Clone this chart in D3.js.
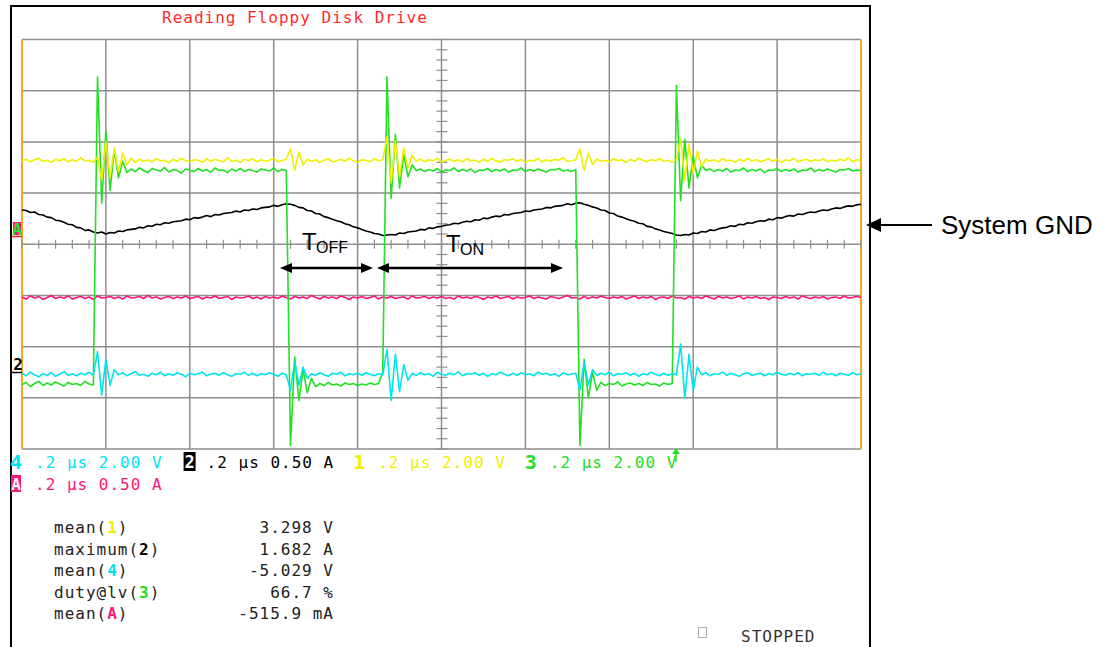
<!DOCTYPE html>
<html><head><meta charset="utf-8">
<script src="https://cdn.jsdelivr.net/npm/d3@7"></script>
<style>
body{margin:0;background:#fff;}
svg{display:block;}
.mono{font-family:"DejaVu Sans Mono",monospace;font-size:16px;letter-spacing:1px;}
.sans{font-family:"Liberation Sans",Arial,sans-serif;}
</style></head><body>
<svg id="c" width="1107" height="647"></svg>
<script>
// ---- data (vertical in divisions, samples evenly spaced across 10 divisions) ----
const ch1 = [ // yellow
1.63,1.66,1.61,1.65,1.68,1.62,1.64,1.60,1.66,1.63,1.67,1.61,1.65,1.62,1.69,1.63,1.64,1.60,
1.70,1.25,2.00,1.30,1.88,1.42,1.78,1.55,
1.68,1.60,1.66,1.62,1.65,1.61,1.67,1.63,1.64,1.59,1.66,1.62,1.68,1.63,1.61,1.65,1.64,1.60,1.67,1.62,1.66,1.63,1.61,1.69,1.62,1.64,1.60,1.66,1.63,1.67,1.61,1.65,1.62,1.64,1.68,1.61,1.63,1.66,
1.86,1.45,1.80,1.55,
1.66,1.62,1.65,1.60,1.64,1.67,1.61,1.63,1.66,1.62,1.68,1.63,1.60,1.65,1.64,1.61,1.67,1.63,1.65,
2.10,1.20,2.02,1.32,1.88,1.48,1.74,
1.62,1.66,1.61,1.65,1.63,1.68,1.60,1.64,1.66,1.62,1.65,1.61,1.67,1.63,1.64,1.60,1.66,1.62,1.68,1.63,1.61,1.65,1.64,1.67,1.62,1.66,1.60,1.64,1.63,1.67,1.61,1.65,1.62,1.66,1.64,1.69,1.62,1.63,1.65,
1.86,1.44,1.78,1.56,
1.66,1.62,1.64,1.61,1.67,1.63,1.65,1.60,1.66,1.62,1.68,1.64,1.61,1.65,1.63,1.67,1.62,1.64,1.60,1.66,
2.06,1.24,1.96,1.38,1.82,1.52,
1.66,1.62,1.65,1.61,1.67,1.63,1.64,1.60,1.66,1.62,1.68,1.63,1.65,1.61,1.64,1.67,1.62,1.66,1.60,1.65,1.63,1.68,1.61,1.64,1.66,1.62,1.65,1.63,1.67,1.61,1.64,1.62,1.66,1.63,1.69,1.61,1.65,1.64];

const ch2 = [ // black (current)
0.67,0.66,0.62,0.63,0.58,0.57,0.53,0.52,0.47,0.46,0.43,0.39,0.38,0.33,0.32,0.27,0.28,0.24,0.22,0.24,0.20,
0.23,0.22,0.26,0.25,0.28,0.29,0.30,0.33,0.32,0.36,0.35,0.39,0.38,0.42,0.41,0.44,0.45,0.46,0.49,0.48,0.52,0.51,0.53,0.56,0.54,0.58,0.57,0.60,0.61,0.62,0.65,0.63,0.67,0.66,0.69,0.68,0.71,0.72,0.73,0.76,0.74,0.77,0.79,0.78,
0.76,0.72,0.71,0.66,0.65,0.60,0.59,0.54,0.52,0.49,0.46,0.44,0.40,0.38,0.34,0.32,0.29,0.26,0.24,0.21,0.20,0.17,0.18,
0.19,0.18,0.22,0.21,0.24,0.25,0.26,0.29,0.28,0.32,0.31,0.34,0.35,0.37,0.38,0.41,0.40,0.43,0.45,0.44,0.48,0.47,0.51,0.50,0.53,0.55,0.54,0.58,0.57,0.60,0.61,0.62,0.65,0.64,0.67,0.68,0.69,0.72,0.71,0.74,0.75,0.76,0.79,0.77,0.80,0.81,
0.78,0.76,0.73,0.71,0.67,0.66,0.61,0.60,0.55,0.53,0.50,0.47,0.45,0.41,0.40,0.35,0.34,0.30,0.28,0.25,0.23,0.21,0.18,0.17,
0.19,0.18,0.22,0.21,0.25,0.24,0.28,0.27,0.30,0.32,0.33,0.36,0.35,0.39,0.38,0.42,0.41,0.44,0.46,0.45,0.49,0.48,0.52,0.51,0.54,0.56,0.55,0.59,0.58,0.61,0.63,0.62,0.65,0.67,0.66,0.69,0.71,0.70,0.73,0.75,0.74,0.77,0.78];

const ch3 = [ // green
-2.74,-2.70,-2.78,-2.72,-2.68,-2.76,-2.71,-2.75,-2.69,-2.73,-2.77,-2.70,-2.74,-2.72,-2.76,-2.68,-2.73,-2.75,
3.27,0.80,2.20,1.05,1.85,1.30,1.62,1.40,
1.47,1.42,1.49,1.44,1.40,1.48,1.45,1.43,1.50,1.41,1.46,1.44,1.39,1.47,1.45,1.42,1.48,1.43,1.46,1.41,1.49,1.44,1.45,1.40,1.47,1.43,1.48,1.42,1.46,1.44,1.41,1.47,1.45,1.43,1.49,1.42,1.46,1.44,
-3.93,-2.20,-3.05,-2.45,-2.90,-2.62,
-2.78,-2.72,-2.76,-2.70,-2.75,-2.73,-2.77,-2.71,-2.74,-2.72,-2.76,-2.73,-2.75,-2.71,-2.74,-2.72,
-2.50,
3.27,0.90,2.15,1.10,1.75,1.32,1.55,
1.44,1.47,1.42,1.46,1.43,1.48,1.41,1.45,1.44,1.49,1.42,1.46,1.43,1.47,1.40,1.45,1.44,1.48,1.42,1.46,1.43,1.47,1.41,1.45,1.44,1.49,1.42,1.46,1.43,1.47,1.44,1.41,1.46,1.45,1.48,1.43,1.45,1.42,1.46,
-3.93,-2.25,-3.00,-2.50,-2.85,
-2.70,-2.76,-2.72,-2.74,-2.69,-2.77,-2.73,-2.71,-2.75,-2.72,-2.76,-2.70,-2.74,-2.73,-2.77,-2.71,-2.74,-2.72,
3.10,0.85,2.05,1.10,1.72,1.30,1.55,
1.44,1.47,1.42,1.46,1.43,1.48,1.41,1.45,1.44,1.49,1.42,1.46,1.43,1.47,1.40,1.45,1.44,1.48,1.42,1.46,1.43,1.47,1.41,1.45,1.44,1.49,1.42,1.46,1.43,1.47,1.44,1.41,1.46,1.45,1.48,1.43,1.45,1.44];

const ch4 = [ // cyan
-2.52,-2.57,-2.50,-2.55,-2.59,-2.53,-2.56,-2.51,-2.58,-2.54,-2.49,-2.56,-2.53,-2.57,-2.52,-2.55,-2.50,-2.56,
-2.10,-2.95,-2.25,-2.75,-2.45,
-2.55,-2.51,-2.57,-2.53,-2.49,-2.56,-2.54,-2.58,-2.52,-2.55,-2.50,-2.57,-2.53,-2.56,-2.51,-2.54,-2.59,-2.52,-2.55,-2.53,-2.50,-2.57,-2.54,-2.52,-2.56,-2.51,-2.55,-2.58,-2.53,-2.54,-2.50,-2.56,-2.52,-2.57,-2.53,-2.55,-2.51,-2.54,-2.58,-2.52,-2.55,
-2.85,-2.30,-2.75,-2.40,-2.62,
-2.53,-2.56,-2.51,-2.55,-2.58,-2.52,-2.54,-2.50,-2.57,-2.53,-2.55,-2.52,-2.56,-2.51,-2.54,-2.57,-2.53,-2.55,
-2.05,-3.05,-2.15,-2.88,-2.35,-2.66,
-2.52,-2.56,-2.51,-2.55,-2.53,-2.58,-2.50,-2.54,-2.56,-2.52,-2.55,-2.49,-2.57,-2.53,-2.54,-2.51,-2.56,-2.52,-2.58,-2.53,-2.55,-2.50,-2.54,-2.57,-2.52,-2.56,-2.51,-2.55,-2.53,-2.57,-2.50,-2.54,-2.52,-2.56,-2.53,-2.58,-2.51,-2.55,-2.54,-2.52,
-2.85,-2.30,-2.75,-2.45,
-2.56,-2.52,-2.55,-2.50,-2.57,-2.53,-2.54,-2.51,-2.56,-2.52,-2.58,-2.53,-2.55,-2.50,-2.54,-2.57,-2.52,-2.56,-2.53,-2.55,
-1.95,-3.00,-2.15,-2.85,-2.40,
-2.55,-2.51,-2.57,-2.53,-2.54,-2.50,-2.56,-2.52,-2.55,-2.58,-2.53,-2.51,-2.56,-2.54,-2.52,-2.57,-2.53,-2.55,-2.50,-2.54,-2.56,-2.52,-2.55,-2.51,-2.57,-2.53,-2.54,-2.52,-2.56,-2.50,-2.55,-2.53,-2.57,-2.52,-2.54,-2.56,-2.51,-2.55,-2.53];

const chA = [ // pink (math A)
-1.03,-1.07,-1.01,-1.05,-1.02,-1.08,-1.04,-1.00,-1.06,-1.03,-1.05,-1.01,-1.07,-1.04,-1.02,-1.06,-1.03,-1.08,-1.01,-1.05,
-1.04,-1.02,-1.06,-1.03,-1.07,-1.01,-1.05,-1.04,-1.02,-1.06,-1.00,-1.05,-1.03,-1.07,-1.04,-1.02,-1.06,-1.03,-1.05,-1.01,
-1.06,-1.04,-1.02,-1.07,-1.03,-1.05,-1.01,-1.06,-1.04,-1.02,-1.08,-1.03,-1.05,-1.04,-1.01,-1.06,-1.03,-1.07,-1.02,-1.05,
-1.03,-1.06,-1.01,-1.04,-1.07,-1.02,-1.05,-1.03,-1.06,-1.00,-1.04,-1.07,-1.02,-1.05,-1.03,-1.06,-1.01,-1.04,-1.08,-1.03,
-1.05,-1.02,-1.06,-1.04,-1.01,-1.07,-1.03,-1.05,-1.02,-1.06,-1.04,-1.03,-1.07,-1.01,-1.05,-1.04,-1.02,-1.06,-1.03,-1.05,
-1.02,-1.06,-1.04,-1.07,-1.01,-1.05,-1.03,-1.06,-1.02,-1.04,-1.08,-1.03,-1.05,-1.01,-1.06,-1.04,-1.02,-1.07,-1.03,-1.05,
-1.04,-1.01,-1.06,-1.03,-1.05,-1.07,-1.02,-1.04,-1.06,-1.03,-1.00,-1.05,-1.04,-1.07,-1.02,-1.06,-1.03,-1.05,-1.01,-1.04,
-1.06,-1.03,-1.05,-1.02,-1.07,-1.04,-1.01,-1.06,-1.03,-1.05,-1.02,-1.08,-1.04,-1.03,-1.06,-1.01,-1.05,-1.04,-1.07,-1.02,
-1.05,-1.03,-1.06,-1.01,-1.04,-1.07,-1.02,-1.05,-1.03,-1.06,-1.04,-1.01,-1.07,-1.03,-1.05,-1.02,-1.06,-1.04,-1.08,-1.03,
-1.04,-1.06,-1.02,-1.05,-1.03,-1.07,-1.01,-1.04,-1.06,-1.03,-1.05,-1.02,-1.07,-1.04,-1.03,-1.06,-1.01,-1.05,-1.04,-1.02,
-1.04];

const xDivs = 10, yDivs = 8, minorPerDiv = 5;
const title = "Reading Floppy Disk Drive";
const legendChannels = ["4","2","1","3"];
const legendTexts = [".2 µs 2.00 V",".2 µs 0.50 A",".2 µs 2.00 V",".2 µs 2.00 V"];
const legendRow2 = {ch:"A", text:".2 µs 0.50 A"};
const measLabels = ["mean(","maximum(","mean(","duty@lv(","mean("];
const measChannels = ["1","2","4","3","A"];
const measValues = ["3.298 V","1.682 A","-5.029 V","66.7 %","-515.9 mA"];

const COL = {"1":"#efef00","2":"#000000","3":"#22e022","4":"#00e4ee","A":"#ff1478"};
const GRID = "#8e8e8e", EDGE = "#f5a623";

const svg = d3.select("#c");
const x = d3.scaleLinear().domain([0, xDivs]).range([22, 861]);
const y = d3.scaleLinear().domain([-yDivs/2, yDivs/2]).range([449, 39.5]);

// outer frame
svg.append("path").attr("d","M11,660 V6 H870 V660").attr("fill","none").attr("stroke","#000").attr("stroke-width",2);

// title
svg.append("text").attr("class","mono").attr("x",162).attr("y",23).attr("fill","#ff2a2a").text(title);

// grid
const grid = svg.append("g");
grid.selectAll("line.h").data(d3.range(-yDivs/2, yDivs/2+1)).enter().append("line")
  .attr("x1",x(0)).attr("x2",x(xDivs)).attr("y1",d=>y(d)).attr("y2",d=>y(d))
  .attr("stroke",GRID).attr("stroke-width",1.5);
grid.selectAll("line.v").data(d3.range(0, xDivs+1)).enter().append("line")
  .attr("y1",y(-yDivs/2)).attr("y2",y(yDivs/2)).attr("x1",d=>x(d)).attr("x2",d=>x(d))
  .attr("stroke",d=> (d===0||d===xDivs)?EDGE:GRID).attr("stroke-width",d=> (d===0||d===xDivs)?2:1.5);
// minor ticks on center axes
grid.selectAll("line.tx").data(d3.range(0, xDivs*minorPerDiv+1).map(k=>k/minorPerDiv)).enter().append("line")
  .attr("x1",d=>x(d)).attr("x2",d=>x(d)).attr("y1",y(0)-4.5).attr("y2",y(0)+4.5)
  .attr("stroke",GRID).attr("stroke-width",1.2);
grid.selectAll("line.ty").data(d3.range(0, yDivs*minorPerDiv+1).map(k=>k/minorPerDiv - yDivs/2)).enter().append("line")
  .attr("y1",d=>y(d)).attr("y2",d=>y(d)).attr("x1",x(xDivs/2)-5).attr("x2",x(xDivs/2)+6)
  .attr("stroke",GRID).attr("stroke-width",1.2);

// traces
const tr = svg.append("g");
function trace(data, color){
  const n = data.length;
  const line = d3.line().x((d,i)=>x(i*xDivs/(n-1))).y(d=>y(d));
  tr.append("path").attr("d",line(data)).attr("fill","none").attr("stroke",color)
    .attr("stroke-width",1.6).attr("stroke-linejoin","round");
}
trace(chA, COL["A"]);
trace(ch2, COL["2"]);
trace(ch3, COL["3"]);
trace(ch4, COL["4"]);
trace(ch1, COL["1"]);

// left channel markers
svg.append("rect").attr("x",13).attr("y",222).attr("width",8).attr("height",13).attr("fill",COL["A"]);
svg.append("text").attr("class","mono").attr("x",17).attr("y",235).attr("text-anchor","middle")
  .attr("font-weight","bold").attr("fill",COL["3"]).style("letter-spacing","0").text("A");
svg.append("line").attr("x1",12).attr("x2",22).attr("y1",236.5).attr("y2",236.5).attr("stroke","#ff2020").attr("stroke-width",1.5);
svg.append("text").attr("class","mono").attr("x",18).attr("y",370).attr("text-anchor","middle")
  .attr("font-weight","bold").attr("font-size",19).style("letter-spacing","0").attr("fill","#000").text("2");
svg.append("line").attr("x1",12).attr("x2",22).attr("y1",372.5).attr("y2",372.5).attr("stroke","#000").attr("stroke-width",1.5);

// annotations
const ann = svg.append("g").attr("class","sans");
ann.append("text").attr("x",302).attr("y",250).attr("font-size",24).text("T");
ann.append("text").attr("x",316).attr("y",253).attr("font-size",16).text("OFF");
ann.append("text").attr("x",446).attr("y",252).attr("font-size",24).text("T");
ann.append("text").attr("x",460).attr("y",255).attr("font-size",16).text("ON");
function dblArrow(x1,x2,yy){
  ann.append("line").attr("x1",x1+8).attr("x2",x2-8).attr("y1",yy).attr("y2",yy).attr("stroke","#000").attr("stroke-width",2.5);
  ann.append("path").attr("d",`M${x1},${yy} L${x1+12},${yy-5} L${x1+12},${yy+5} Z`).attr("fill","#000");
  ann.append("path").attr("d",`M${x2},${yy} L${x2-12},${yy-5} L${x2-12},${yy+5} Z`).attr("fill","#000");
}
dblArrow(280,373,268);
dblArrow(377,563,268);

// System GND
svg.append("line").attr("x1",876).attr("x2",932).attr("y1",225).attr("y2",225).attr("stroke","#000").attr("stroke-width",2);
svg.append("path").attr("d","M866,225 L881,218 L881,232 Z").attr("fill","#000");
svg.append("text").attr("class","sans").attr("x",941).attr("y",234).attr("font-size",26).text("System GND");

// legend
const lg = svg.append("g").attr("class","mono");
legendChannels.forEach((ch,k)=>{
  const gx = 12 + k*171.6;
  if(ch==="2"){
    lg.append("rect").attr("x",gx).attr("y",452).attr("width",12).attr("height",19).attr("fill","#000");
    lg.append("text").attr("x",gx+6).attr("y",468).attr("text-anchor","middle").attr("font-weight","bold")
      .attr("font-size",17).style("letter-spacing","0").attr("fill","#fff").text(ch);
  } else {
    lg.append("text").attr("x",gx+4).attr("y",469).attr("text-anchor","middle").attr("font-weight","bold")
      .attr("font-size",20).style("letter-spacing","0").attr("fill",COL[ch]).text(ch);
  }
  lg.append("text").attr("x",gx+23).attr("y",468).attr("fill",COL[ch]).text(legendTexts[k]);
});
// trigger marker
svg.append("line").attr("x1",676).attr("x2",676).attr("y1",451).attr("y2",462).attr("stroke",COL["3"]).attr("stroke-width",1.5);
svg.append("path").attr("d","M676,448 L672,454 L680,454 Z").attr("fill",COL["3"]);
// row 2
lg.append("rect").attr("x",11).attr("y",475).attr("width",10).attr("height",17).attr("fill",COL["A"]);
lg.append("text").attr("x",16).attr("y",490).attr("text-anchor","middle").attr("font-weight","bold")
  .attr("font-size",16).style("letter-spacing","0").attr("fill","#fff").text(legendRow2.ch);
lg.append("text").attr("x",35).attr("y",490).attr("fill",COL["A"]).text(legendRow2.text);

// measurements
const ms = svg.append("g").attr("class","mono");
measLabels.forEach((lab,k)=>{
  const yy = 533 + k*21.6;
  const t = ms.append("text").attr("x",54).attr("y",yy).attr("fill","#222");
  t.append("tspan").text(lab);
  t.append("tspan").attr("fill",COL[measChannels[k]]).attr("font-weight","bold").text(measChannels[k]);
  t.append("tspan").text(")");
  ms.append("text").attr("x",334).attr("y",yy).attr("text-anchor","end").attr("fill","#222").text(measValues[k]);
});

// status
svg.append("rect").attr("x",698.5).attr("y",627.5).attr("width",8).attr("height",10).attr("fill","none").attr("stroke","#aaa");
svg.append("text").attr("class","mono").attr("x",741).attr("y",642).attr("fill","#333").text("STOPPED");
</script>
</body></html>
